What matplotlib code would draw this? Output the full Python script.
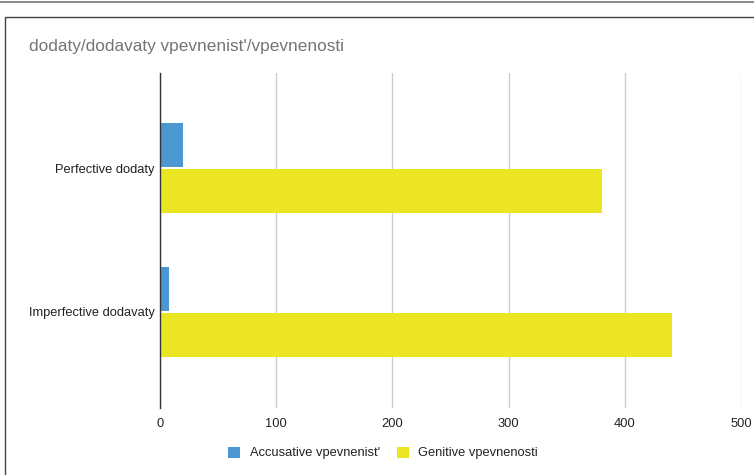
import matplotlib
matplotlib.use("Agg")
import matplotlib.pyplot as plt
from matplotlib.patches import Patch
from matplotlib.lines import Line2D

plt.rcParams['font.family'] = ['Liberation Sans', 'DejaVu Sans']

categories = ["Perfective dodaty", "Imperfective dodavaty"]
series_names = ["Accusative vpevnenist'", "Genitive vpevnenosti"]
accusative = [20, 8]
genitive = [380, 441]
x_ticks = [0, 100, 200, 300, 400, 500]
title = "dodaty/dodavaty vpevnenist'/vpevnenosti"

colors = ["#4A97D2", "#EBE524"]

W, H = 754, 475
fig = plt.figure(figsize=(W / 100, H / 100), dpi=100)

# outer decorations: top rule and chart frame
fig.add_artist(Line2D([0, 1], [1 - 1.5 / H, 1 - 1.5 / H], color="#777777", lw=1.2,
                      transform=fig.transFigure))
fig.add_artist(Line2D([4.5 / W, 4.5 / W, 1.01], [-0.01, 1 - 16.5 / H, 1 - 16.5 / H],
                      color="#444444", lw=1.0, transform=fig.transFigure))

ax = fig.add_axes([160 / W, 1 - 408 / H, (741 - 160) / W, (408 - 73) / H])

bar_h = 0.306
gap = 0.014
ys = list(range(len(categories)))
ax.barh([y - bar_h / 2 - gap / 2 for y in ys], accusative, height=bar_h,
        color=colors[0], zorder=3)
ax.barh([y + bar_h / 2 + gap / 2 for y in ys], genitive, height=bar_h,
        color=colors[1], zorder=3)

ax.set_xlim(0, 500)
ax.set_ylim(len(categories) - 1 + 0.667, -0.66)
ax.set_xticks(x_ticks)
ax.set_xticklabels([str(t) for t in x_ticks])
ax.set_yticks(ys)
ax.set_yticklabels(categories)
ax.tick_params(axis="both", length=0, labelsize=9.3, colors="#222222")
ax.tick_params(axis="x", pad=7.5)
ax.tick_params(axis="y", pad=4)
ax.grid(axis="x", color="#CCCCCC", lw=1.0, zorder=0)
for s in ["top", "right", "bottom"]:
    ax.spines[s].set_visible(False)
ax.spines["left"].set_color("#333333")
ax.spines["left"].set_linewidth(1.0)
ax.spines["left"].set_zorder(4)

fig.text(29 / W, 1 - 47 / H, title, fontsize=12.4, color="#757575",
         ha="left", va="center")

handles = [Patch(facecolor=c, edgecolor="none") for c in colors]
fig.legend(handles, series_names, ncol=2, loc="center",
           bbox_to_anchor=(383 / W, 1 - 453 / H), frameon=False,
           fontsize=9.3, handlelength=0.94, handleheight=0.94,
           handletextpad=0.7, columnspacing=1.33, labelcolor="#222222",
           borderpad=0)

fig.savefig("out.png", dpi=100, facecolor="white")
